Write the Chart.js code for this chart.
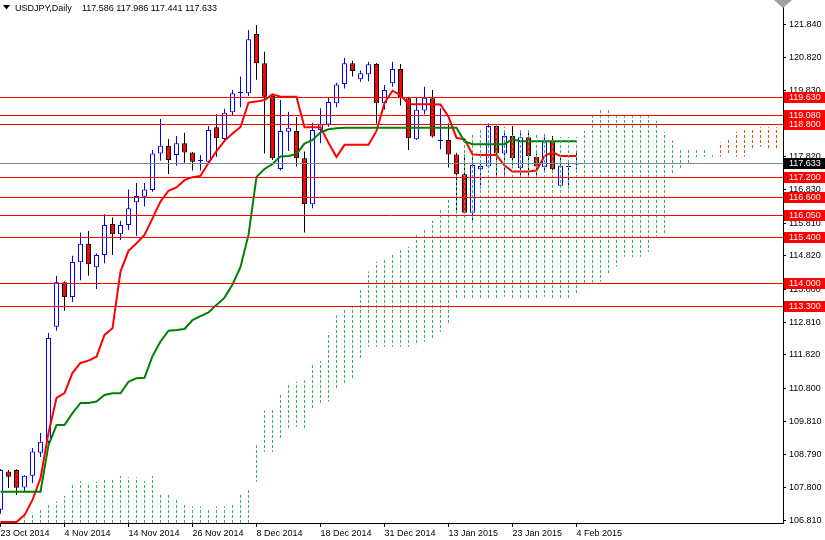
<!DOCTYPE html>
<html>
<head>
<meta charset="utf-8">
<script src="https://cdn.jsdelivr.net/npm/chart.js@4.4.1/dist/chart.umd.min.js"></script>
<style>
  html, body { margin: 0; padding: 0; background: #fff; }
  #wrap { width: 825px; height: 540px; position: relative; }
</style>
</head>
<body>
<div id="wrap"><canvas id="chart"></canvas></div>
<script>
'use strict';

// daily candles, 23 Oct 2014 .. 4 Feb 2015
var opens  = [107.12,108.28,108.33,107.80,108.15,108.85,109.18,112.67,114.02,113.57,114.62,115.18,114.47,114.84,115.78,115.47,115.75,116.44,116.61,116.81,117.92,118.15,117.87,118.23,117.95,117.69,117.67,118.71,118.36,119.17,119.75,119.74,121.54,120.65,119.66,117.45,118.58,118.60,117.77,116.38,118.63,118.80,119.44,120.02,120.65,120.17,120.32,120.63,119.44,120.05,120.48,119.59,118.35,119.22,119.59,118.30,118.33,117.89,117.29,116.12,117.44,117.52,118.75,117.92,118.45,117.47,118.41,117.82,117.50,118.28,116.94,117.51,117.586];
var highs  = [108.36,108.33,108.35,108.17,108.99,109.45,112.48,114.21,114.04,114.82,115.52,115.57,114.89,116.08,115.98,115.88,116.83,117.02,117.02,118.02,118.96,118.36,118.45,118.55,117.96,117.87,118.75,119.11,119.27,119.84,120.25,121.66,121.81,121.00,119.70,119.54,119.18,119.02,117.98,118.85,119.29,119.62,120.06,120.82,120.73,120.43,120.70,120.66,119.99,120.70,120.63,119.64,119.61,119.94,119.84,119.29,118.83,117.94,117.89,117.92,117.72,118.83,118.81,118.63,118.75,118.53,118.61,117.92,118.50,118.45,117.82,117.72,117.986];
var lows   = [107.00,107.78,107.57,107.67,107.93,108.72,109.14,112.55,113.15,113.42,114.08,114.21,113.81,114.59,114.84,115.30,115.60,115.42,116.31,116.76,117.70,117.30,117.55,117.64,117.40,117.40,117.62,117.82,118.28,119.08,119.32,119.66,120.15,117.92,117.72,117.40,117.99,117.52,115.52,116.26,118.23,118.73,119.32,119.89,120.25,120.09,120.11,118.83,119.24,119.94,119.37,118.02,118.33,119.11,118.40,118.05,117.49,116.11,116.10,115.82,116.86,117.47,117.17,117.27,117.47,117.24,117.22,117.17,117.34,117.32,116.89,116.86,117.441];
var closes = [108.33,108.12,107.79,108.15,108.89,109.18,112.33,114.02,113.57,114.63,115.18,114.56,114.84,115.75,115.47,115.75,116.26,116.63,116.83,117.92,118.15,117.72,118.23,117.95,117.67,117.69,118.63,118.38,119.15,119.74,119.77,121.38,120.65,119.64,117.77,118.60,118.70,117.77,116.38,118.63,118.80,119.48,120.01,120.65,120.42,120.35,120.62,119.44,119.84,120.48,119.59,118.38,119.24,119.61,118.43,118.32,117.89,117.29,116.12,117.57,117.54,118.75,117.92,118.45,117.77,118.41,117.84,117.52,118.26,117.44,117.55,117.53,117.633];

// Ichimoku lines
var tenkan = [106.75,106.75,106.75,106.96,107.42,108.08,109.45,110.51,110.66,111.27,111.57,111.64,111.76,112.42,112.62,114.34,114.97,115.20,115.45,115.95,116.46,116.79,116.89,117.11,117.20,117.24,117.63,117.99,118.30,118.52,118.72,119.46,119.49,119.54,119.71,119.64,119.64,119.64,118.71,118.71,118.71,118.24,117.81,118.18,118.18,118.18,118.18,118.60,119.45,119.82,119.69,119.42,119.41,119.41,119.41,119.40,119.03,118.39,118.35,117.89,117.87,117.87,117.87,117.55,117.37,117.37,117.37,117.40,117.84,117.96,117.84,117.84,117.84];
var kijun  = [107.67,107.67,107.67,107.67,107.67,107.67,109.08,109.69,109.69,110.05,110.36,110.36,110.40,110.60,110.65,110.65,111.00,111.11,111.12,111.78,112.22,112.55,112.57,112.60,112.87,112.99,113.10,113.33,113.55,113.95,114.48,115.45,117.21,117.45,117.60,117.83,117.84,117.90,118.22,118.33,118.56,118.65,118.68,118.70,118.70,118.70,118.70,118.70,118.70,118.70,118.70,118.70,118.70,118.70,118.70,118.70,118.70,118.70,118.28,118.20,118.20,118.20,118.20,118.20,118.35,118.29,118.29,118.29,118.29,118.29,118.29,118.29,118.29];

// cloud, first column at bar 3, runs 26 bars past the last candle
var cloudStart = 3;
var spanA = [106.91,107.03,107.17,107.32,107.37,107.54,107.87,107.99,107.94,107.97,108.07,108.07,108.15,108.11,108.11,107.99,108.15,107.60,107.60,107.45,107.32,107.22,107.22,107.16,107.22,107.22,107.30,107.62,107.77,109.13,110.13,110.20,110.65,110.97,111.00,111.05,111.56,111.63,112.49,113.02,113.20,113.28,113.78,114.34,114.64,114.74,114.87,115.05,115.09,115.45,115.67,115.88,116.21,116.61,117.35,118.30,118.53,118.68,118.72,118.78,118.73,118.55,118.63,118.63,118.48,118.48,118.41,118.41,118.41,118.41,118.61,119.11,119.26,119.29,119.05,119.05,119.05,119.05,119.05,118.91,118.56,118.31,118.02,118.02,118.02,118.02,117.87,117.82,117.90,117.82,117.82,118.05,118.12,118.07,118.07];
var spanB = [105.50,105.50,105.50,105.50,105.50,105.50,105.50,105.50,105.50,105.50,105.50,105.50,105.50,105.50,105.50,105.50,105.50,105.50,105.50,105.50,105.50,105.50,105.50,105.50,105.50,105.50,105.50,105.50,105.50,107.97,108.88,108.88,109.29,109.59,109.64,109.59,110.20,110.30,110.40,110.75,110.90,111.05,111.71,112.06,112.06,112.06,112.06,112.06,112.06,112.11,112.21,112.29,112.52,112.72,113.53,113.53,113.53,113.53,113.53,113.54,113.58,113.48,113.48,113.48,113.48,113.58,113.54,113.54,113.54,113.65,113.98,114.00,114.03,114.29,114.49,114.79,114.77,114.79,114.94,115.40,115.48,117.30,117.47,117.57,117.81,117.82,117.82,118.25,118.38,118.58,118.63,118.63,118.71,118.71,118.71];

// tick labels
var dateLabels = ['23 Oct 2014', '4 Nov 2014', '14 Nov 2014', '26 Nov 2014', '8 Dec 2014',
                  '18 Dec 2014', '31 Dec 2014', '13 Jan 2015', '23 Jan 2015', '4 Feb 2015'];
var priceTicks = [121.84, 120.82, 119.83, 118.81, 117.82, 116.83, 115.81, 114.82, 113.80,
                  112.81, 111.82, 110.80, 109.81, 108.79, 107.80, 106.81];

// horizontal levels and current bid
var levels = [119.63, 119.08, 118.80, 117.20, 116.60, 116.05, 115.40, 114.00, 113.30];
var bid = 117.633;

var FONT = 'Liberation Sans';

function dashPattern(color) {
    var c = document.createElement('canvas');
    c.width = 1;
    c.height = 5;
    var g = c.getContext('2d');
    g.fillStyle = color;
    g.fillRect(0, 0, 1, 3);
    return g.createPattern(c, 'repeat');
}
var greenDash = dashPattern('#2eb366');
var orangeDash = dashPattern('#ff4500');

var wickData = [], bodyData = [], tenkanData = [], kijunData = [], cloudData = [];
for (var i = 0; i < opens.length; i++) {
    wickData.push({ x: i, y: [lows[i], highs[i]] });
    bodyData.push({ x: i, y: [opens[i], closes[i]] });
    tenkanData.push({ x: i, y: tenkan[i] });
    kijunData.push({ x: i, y: kijun[i] });
}
for (var k = 0; k < spanA.length; k++) {
    cloudData.push({ x: cloudStart + k, y: [spanB[k], spanA[k]], a: spanA[k], b: spanB[k] });
}

function isBull(ctx) {
    return ctx.raw ? closes[ctx.raw.x] >= opens[ctx.raw.x] : true;
}

var overlay = {
    id: 'overlay',
    afterDatasetsDraw: function (chart) {
        var ctx = chart.ctx, area = chart.chartArea, y = chart.scales.y;
        ctx.save();
        ctx.lineWidth = 1;
        levels.forEach(function (v) {
            var py = Math.round(y.getPixelForValue(v)) + 0.5;
            ctx.strokeStyle = '#ff0000';
            ctx.beginPath();
            ctx.moveTo(area.left, py);
            ctx.lineTo(area.right, py);
            ctx.stroke();
        });
        var by = Math.round(y.getPixelForValue(bid)) + 0.5;
        ctx.strokeStyle = '#778899';
        ctx.beginPath();
        ctx.moveTo(area.left, by);
        ctx.lineTo(area.right, by);
        ctx.stroke();
        ctx.restore();
    },
    afterDraw: function (chart) {
        var ctx = chart.ctx, area = chart.chartArea, y = chart.scales.y;
        ctx.save();
        ctx.font = '9px "' + FONT + '"';
        ctx.textBaseline = 'middle';
        ctx.textAlign = 'left';
        function tag(v, bg) {
            var py = Math.round(y.getPixelForValue(v));
            ctx.fillStyle = bg;
            ctx.fillRect(area.right + 1, py - 5, chart.width - area.right - 1, 11);
            ctx.fillStyle = '#fff';
            ctx.fillText(v.toFixed(3), area.right + 6, py + 0.5);
        }
        levels.forEach(function (v) { tag(v, '#ff0000'); });
        tag(bid, '#000');

        // chart shift marker
        ctx.fillStyle = '#a0a0a0';
        ctx.beginPath();
        ctx.moveTo(area.right - 9, 0);
        ctx.lineTo(area.right + 9, 0);
        ctx.lineTo(area.right, 8);
        ctx.closePath();
        ctx.fill();

        // header
        ctx.fillStyle = '#000';
        ctx.beginPath();
        ctx.moveTo(3, 5);
        ctx.lineTo(10, 5);
        ctx.lineTo(6.5, 9.5);
        ctx.closePath();
        ctx.fill();
        ctx.textBaseline = 'alphabetic';
        ctx.fillText('USDJPY,Daily', 15, 11);
        var last = opens.length - 1;
        ctx.fillText([opens[last], highs[last], lows[last], closes[last]].map(function (v) {
            return v.toFixed(3);
        }).join(' '), 82, 11);
        ctx.restore();
    }
};

new Chart(document.getElementById('chart'), {
    type: 'bar',
    data: {
        datasets: [{
            type: 'bar',
            label: 'cloud',
            data: cloudData,
            order: 0,
            grouped: false,
            barThickness: 1,
            borderWidth: 0,
            inflateAmount: 0,
            backgroundColor: function (ctx) {
                return (!ctx.raw || ctx.raw.a >= ctx.raw.b) ? greenDash : orangeDash;
            }
        }, {
            type: 'line',
            label: 'kijun',
            data: kijunData,
            order: 1,
            borderColor: '#008000',
            borderWidth: 2,
            pointRadius: 0,
            tension: 0
        }, {
            type: 'line',
            label: 'tenkan',
            data: tenkanData,
            order: 2,
            borderColor: '#ff0000',
            borderWidth: 2,
            pointRadius: 0,
            tension: 0
        }, {
            type: 'bar',
            label: 'body',
            data: bodyData,
            order: 3,
            grouped: false,
            barThickness: 5,
            borderWidth: 1,
            borderSkipped: false,
            minBarLength: 1,
            inflateAmount: 0,
            backgroundColor: function (ctx) { return isBull(ctx) ? '#ffffff' : '#ff0000'; },
            borderColor: function (ctx) { return isBull(ctx) ? '#0000ff' : '#000000'; }
        }, {
            type: 'bar',
            label: 'wick',
            data: wickData,
            order: 4,
            grouped: false,
            barThickness: 1,
            borderWidth: 0,
            inflateAmount: 0,
            backgroundColor: function (ctx) { return isBull(ctx) ? '#0000ff' : '#000000'; }
        }]
    },
    options: {
        responsive: true,
        maintainAspectRatio: false,
        animation: false,
        layout: { padding: 0 },
        plugins: {
            legend: { display: false },
            tooltip: { enabled: false }
        },
        scales: {
            x: {
                type: 'linear',
                position: 'bottom',
                offset: false,
                min: -0.0625,
                max: 97.8125,
                grid: { offset: false, drawOnChartArea: false, drawTicks: true, tickLength: 4, color: '#000' },
                border: { display: true, color: '#000' },
                ticks: {
                    autoSkip: false,
                    maxRotation: 0,
                    align: 'start',
                    padding: 1,
                    color: '#000',
                    font: { family: FONT, size: 9 },
                    callback: function (v) { return dateLabels[Math.round(v / 8)]; }
                },
                afterBuildTicks: function (scale) {
                    scale.ticks = dateLabels.map(function (_, n) { return { value: n * 8 }; });
                },
                afterFit: function (scale) {
                    scale.height = 17;
                    scale.paddingLeft = 0;
                    scale.paddingRight = 0;
                }
            },
            y: {
                type: 'linear',
                position: 'right',
                min: 106.721,
                max: 122.569,
                grid: { drawOnChartArea: false, drawTicks: true, tickLength: 3, color: '#000' },
                border: { display: true, color: '#000' },
                ticks: {
                    autoSkip: false,
                    padding: 3,
                    color: '#000',
                    font: { family: FONT, size: 9 },
                    callback: function (v) { return v.toFixed(3); }
                },
                afterBuildTicks: function (scale) {
                    scale.ticks = priceTicks.map(function (v) { return { value: v }; });
                },
                afterFit: function (scale) {
                    scale.width = 42;
                    scale.paddingTop = 0;
                    scale.paddingBottom = 0;
                }
            }
        }
    },
    plugins: [overlay]
});
</script>
</body>
</html>
